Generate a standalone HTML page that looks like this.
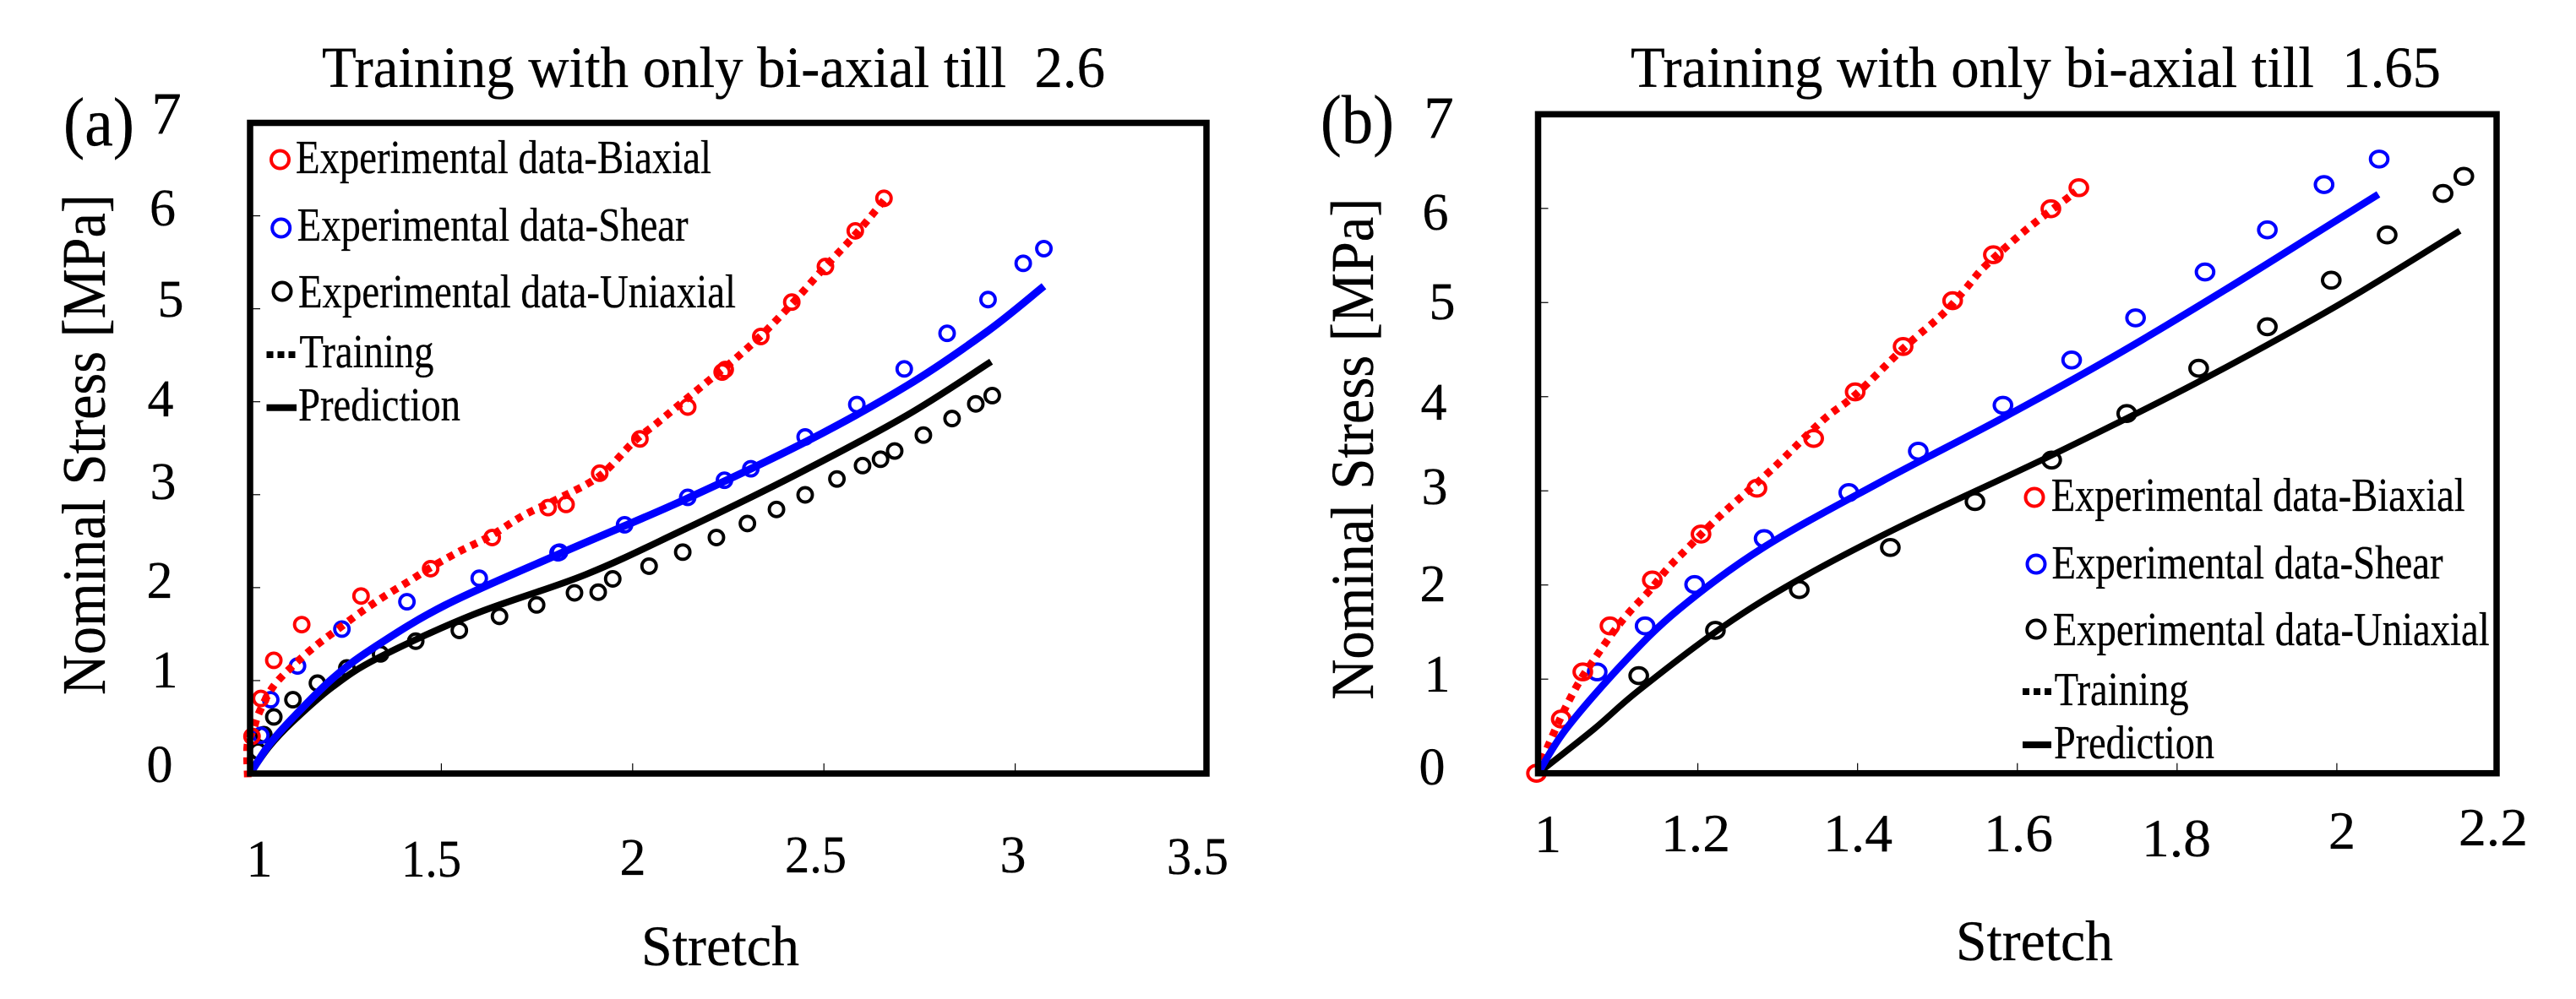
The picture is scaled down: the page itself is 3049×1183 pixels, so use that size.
<!DOCTYPE html>
<html lang="en">
<head>
<meta charset="utf-8">
<title>Training with only bi-axial stress-stretch charts</title>
<style>
html,body{margin:0;padding:0;background:#fff;}
svg{display:block;}
text{font-family:"Liberation Serif",serif;fill:#000;stroke:#000;stroke-width:0.3;white-space:pre;}
</style>
</head>
<body>
<svg id="figure" width="3049" height="1183" viewBox="0 0 3049 1183" xmlns="http://www.w3.org/2000/svg">
<rect x="0" y="0" width="3049" height="1183" fill="#fff"/>

<g id="panel-a">
  <g id="marks-a"></g>
  <rect x="296" y="145.5" width="1132" height="770.5" fill="none" stroke="#000" stroke-width="7.5"/>
  <g id="ticks-a"></g>
  <text x="381" y="103" font-size="68.5" textLength="927" lengthAdjust="spacingAndGlyphs">Training with only bi-axial till  2.6</text>
  <text x="75" y="172" font-size="82" textLength="84" lengthAdjust="spacingAndGlyphs">(a)</text>
  <text transform="translate(124,823) rotate(-90)" font-size="73" textLength="593" lengthAdjust="spacingAndGlyphs">Nominal Stress [MPa]</text>
  <text x="759" y="1143" font-size="68" textLength="187" lengthAdjust="spacingAndGlyphs">Stretch</text>
  <g text-anchor="middle" font-size="62">
    <text x="197" y="158" font-size="71">7</text>
    <text x="192.5" y="267">6</text>
    <text x="202" y="375">5</text>
    <text x="190" y="493">4</text>
    <text x="193" y="591">3</text>
    <text x="189" y="708">2</text>
    <text x="195" y="814">1</text>
    <text x="189" y="926">0</text>
  </g>
  <g font-size="62">
    <text x="307" y="1038" text-anchor="middle">1</text>
    <text x="475" y="1038" textLength="71" lengthAdjust="spacingAndGlyphs">1.5</text>
    <text x="749" y="1036" text-anchor="middle">2</text>
    <text x="929" y="1033" textLength="73" lengthAdjust="spacingAndGlyphs">2.5</text>
    <text x="1199" y="1033" text-anchor="middle">3</text>
    <text x="1381" y="1035" textLength="73" lengthAdjust="spacingAndGlyphs">3.5</text>
  </g>
  <g>
    <circle cx="331.5" cy="189" r="10.5" fill="none" stroke="#f00" stroke-width="4"/>
    <text x="350" y="205" font-size="56" textLength="492" lengthAdjust="spacingAndGlyphs">Experimental data-Biaxial</text>
    <circle cx="332.7" cy="270" r="10.5" fill="none" stroke="#00f" stroke-width="4"/>
    <text x="351.6" y="285" font-size="56" textLength="463" lengthAdjust="spacingAndGlyphs">Experimental data-Shear</text>
    <circle cx="334" cy="345" r="10.5" fill="none" stroke="#000" stroke-width="4"/>
    <text x="353" y="364" font-size="56" textLength="518" lengthAdjust="spacingAndGlyphs">Experimental data-Uniaxial</text>
    <line x1="315.5" y1="420" x2="350" y2="420" stroke="#000" stroke-width="8" stroke-dasharray="8 5"/>
    <text x="354.5" y="435" font-size="56" textLength="159" lengthAdjust="spacingAndGlyphs">Training</text>
    <line x1="315.5" y1="482.7" x2="351" y2="482.7" stroke="#000" stroke-width="8"/>
    <text x="353" y="498" font-size="56" textLength="192" lengthAdjust="spacingAndGlyphs">Prediction</text>
  </g>
</g>

<g id="panel-b">
  <g id="marks-b"></g>
  <rect x="1820.5" y="135.3" width="1134.5" height="780.4" fill="none" stroke="#000" stroke-width="7.5"/>
  <g id="ticks-b"></g>
  <text x="1930" y="103" font-size="68.5" textLength="959" lengthAdjust="spacingAndGlyphs">Training with only bi-axial till  1.65</text>
  <text x="1563" y="169" font-size="82" textLength="87" lengthAdjust="spacingAndGlyphs">(b)</text>
  <text transform="translate(1625,828.6) rotate(-90)" font-size="72" textLength="594" lengthAdjust="spacingAndGlyphs">Nominal Stress [MPa]</text>
  <text x="2315" y="1137" font-size="68" textLength="186" lengthAdjust="spacingAndGlyphs">Stretch</text>
  <g text-anchor="middle" font-size="62">
    <text x="1703" y="163" font-size="71">7</text>
    <text x="1699" y="272">6</text>
    <text x="1707" y="378">5</text>
    <text x="1697" y="497">4</text>
    <text x="1698" y="597">3</text>
    <text x="1696" y="712">2</text>
    <text x="1701" y="819">1</text>
    <text x="1695" y="929">0</text>
  </g>
  <g font-size="64">
    <text x="1832" y="1009" text-anchor="middle">1</text>
    <text x="1966" y="1008" textLength="82" lengthAdjust="spacingAndGlyphs">1.2</text>
    <text x="2158" y="1008" textLength="82" lengthAdjust="spacingAndGlyphs">1.4</text>
    <text x="2348" y="1008" textLength="82" lengthAdjust="spacingAndGlyphs">1.6</text>
    <text x="2535" y="1014" textLength="82" lengthAdjust="spacingAndGlyphs">1.8</text>
    <text x="2772" y="1005" text-anchor="middle">2</text>
    <text x="2910" y="1001" textLength="82" lengthAdjust="spacingAndGlyphs">2.2</text>
  </g>
  <g>
    <circle cx="2408" cy="589" r="10.5" fill="none" stroke="#f00" stroke-width="4"/>
    <text x="2427.7" y="605" font-size="56" textLength="490" lengthAdjust="spacingAndGlyphs">Experimental data-Biaxial</text>
    <circle cx="2410" cy="668" r="10.5" fill="none" stroke="#00f" stroke-width="4"/>
    <text x="2428.5" y="685" font-size="56" textLength="463" lengthAdjust="spacingAndGlyphs">Experimental data-Shear</text>
    <circle cx="2410" cy="745" r="10.5" fill="none" stroke="#000" stroke-width="4"/>
    <text x="2429.7" y="764" font-size="56" textLength="517" lengthAdjust="spacingAndGlyphs">Experimental data-Uniaxial</text>
    <line x1="2394" y1="819" x2="2430" y2="819" stroke="#000" stroke-width="8" stroke-dasharray="8 5"/>
    <text x="2431.6" y="835" font-size="56" textLength="159" lengthAdjust="spacingAndGlyphs">Training</text>
    <line x1="2394" y1="882" x2="2428" y2="882" stroke="#000" stroke-width="8"/>
    <text x="2431" y="898" font-size="56" textLength="190" lengthAdjust="spacingAndGlyphs">Prediction</text>
  </g>
</g>
</svg>

<script>
// Tick values
const aXTicks = [1.5, 2, 2.5, 3];
const bXTicks = [1.2, 1.4, 1.6, 1.8, 2];
const yTicks = [1, 2, 3, 4, 5, 6];

// Panel (a) experimental points
const aBiaxialStretch = [1.005, 1.028, 1.062, 1.135, 1.290, 1.472, 1.633, 1.779, 1.826, 1.914, 2.019, 2.144, 2.234, 2.242, 2.335, 2.416, 2.504, 2.582, 2.657];
const aBiaxialStress = [0.4, 0.808, 1.218, 1.602, 1.910, 2.204, 2.539, 2.861, 2.895, 3.231, 3.600, 3.943, 4.319, 4.346, 4.702, 5.072, 5.455, 5.838, 6.188];
const aShearStretch = [1.028, 1.054, 1.124, 1.240, 1.410, 1.599, 1.805, 1.809, 1.979, 2.144, 2.240, 2.309, 2.451, 2.586, 2.710, 2.822, 2.929, 3.021, 3.075];
const aShearStress = [0.411, 0.794, 1.157, 1.554, 1.848, 2.101, 2.375, 2.382, 2.676, 2.971, 3.155, 3.279, 3.621, 3.970, 4.353, 4.736, 5.099, 5.489, 5.647];
const aUniaxialStretch = [1.021, 1.036, 1.062, 1.112, 1.176, 1.253, 1.341, 1.433, 1.547, 1.652, 1.749, 1.848, 1.910, 1.948, 2.043, 2.131, 2.219, 2.300, 2.376, 2.451, 2.534, 2.601, 2.648, 2.685, 2.760, 2.835, 2.897, 2.940];
const aUniaxialStress = [0.240, 0.418, 0.609, 0.794, 0.972, 1.136, 1.287, 1.424, 1.540, 1.691, 1.814, 1.944, 1.951, 2.094, 2.231, 2.382, 2.539, 2.690, 2.841, 2.998, 3.169, 3.313, 3.381, 3.470, 3.641, 3.819, 3.977, 4.066];

// Panel (a) model curves
const aTrainStretch = [0.994, 0.993, 1.009, 1.024, 1.060, 1.112, 1.171, 1.230, 1.289, 1.355, 1.421, 1.473, 1.546, 1.627, 1.716, 1.809, 1.914, 2.003, 2.062, 2.120, 2.179, 2.238, 2.268, 2.335, 2.416, 2.504, 2.582, 2.657];
const aTrainStress = [-0.04, 0.3, 0.479, 0.660, 0.933, 1.160, 1.372, 1.554, 1.735, 1.917, 2.083, 2.219, 2.387, 2.553, 2.780, 2.964, 3.203, 3.570, 3.764, 3.961, 4.160, 4.360, 4.460, 4.709, 5.051, 5.455, 5.797, 6.167];
const aShearFitStretch = [1, 1.05, 1.112, 1.215, 1.318, 1.509, 1.804, 2.128, 2.452, 2.717, 2.925, 3.075];
const aShearFitStress = [0, 0.31, 0.60, 1.02, 1.34, 1.81, 2.356, 2.932, 3.568, 4.173, 4.75, 5.243];
const aUniFitStretch = [1, 1.05, 1.112, 1.215, 1.333, 1.583, 1.877, 2.128, 2.422, 2.717, 2.937];
const aUniFitStress = [0, 0.29, 0.56, 0.93, 1.24, 1.71, 2.14, 2.613, 3.204, 3.855, 4.431];

// Panel (b) experimental points
const bBiaxialStretch = [0.998, 1.029, 1.056, 1.090, 1.143, 1.204, 1.274, 1.345, 1.397, 1.457, 1.519, 1.570, 1.642, 1.677];
const bBiaxialStress = [0, 0.576, 1.077, 1.565, 2.053, 2.541, 3.028, 3.557, 4.051, 4.533, 5.020, 5.508, 5.996, 6.220];
const bShearStretch = [1.074, 1.134, 1.196, 1.283, 1.389, 1.476, 1.582, 1.668, 1.748, 1.835, 1.913, 1.984, 2.053];
const bShearStress = [1.077, 1.565, 2.005, 2.493, 2.981, 3.421, 3.909, 4.390, 4.837, 5.325, 5.772, 6.253, 6.524];
const bUniaxialStretch = [1.126, 1.222, 1.327, 1.441, 1.547, 1.643, 1.737, 1.827, 1.913, 1.993, 2.063, 2.133, 2.159];
const bUniaxialStress = [1.037, 1.518, 1.951, 2.398, 2.886, 3.327, 3.821, 4.302, 4.743, 5.237, 5.718, 6.159, 6.341];

// Panel (b) model curves
const bTrainStretch = [1.002, 1.007, 1.021, 1.035, 1.052, 1.072, 1.093, 1.114, 1.139, 1.162, 1.188, 1.225, 1.294, 1.356, 1.397, 1.459, 1.507, 1.534, 1.558, 1.599, 1.627, 1.662, 1.673];
const bTrainStress = [0, 0.171, 0.455, 0.709, 0.978, 1.232, 1.486, 1.710, 1.935, 2.174, 2.398, 2.712, 3.238, 3.747, 4.018, 4.526, 4.880, 5.134, 5.373, 5.687, 5.881, 6.105, 6.180];
const bShearFitStretch = [1, 1.035, 1.105, 1.176, 1.282, 1.430, 1.578, 1.719, 1.860, 2.001, 2.052];
const bShearFitStress = [0, 0.470, 1.157, 1.740, 2.398, 3.100, 3.758, 4.420, 5.134, 5.880, 6.150];
const bUniFitStretch = [1, 1.070, 1.126, 1.232, 1.331, 1.458, 1.641, 1.825, 2.001, 2.154];
const bUniFitStress = [0, 0.470, 0.880, 1.560, 2.080, 2.640, 3.370, 4.150, 4.970, 5.762];

const SVG_NS = 'http://www.w3.org/2000/svg';

function xA(s) { return 296 + (s - 1) * (1132 / 2.5); }
function yA(v) { return 916 - v * (770.5 / 7); }
function xB(s) { return 1820.5 + (s - 1) * (1134.5 / 1.2); }
function yB(v) { return 915.7 - v * (780.4 / 7); }

function drawMarkers(parent, xs, ys, xFn, yFn, color, rx, ry, sw, name) {
  xs.forEach(function (s, i) {
    const el = document.createElementNS(SVG_NS, 'ellipse');
    
    
    el.setAttribute('cx', xFn(s));
    el.setAttribute('cy', yFn(ys[i]));
    el.setAttribute('rx', rx);
    el.setAttribute('ry', ry);
    el.setAttribute('fill', 'none');
    el.setAttribute('stroke', color);
    el.setAttribute('stroke-width', sw);
    parent.appendChild(el);
  });
}

function smoothPath(xs, ys, xFn, yFn) {
  const px = xs.map(xFn);
  const py = ys.map(yFn);
  let d = 'M' + px[0].toFixed(1) + ' ' + py[0].toFixed(1);
  for (let i = 0; i < px.length - 1; i++) {
    const p0 = Math.max(i - 1, 0);
    const p3 = Math.min(i + 2, px.length - 1);
    const c1x = px[i] + (px[i + 1] - px[p0]) / 6;
    const c1y = py[i] + (py[i + 1] - py[p0]) / 6;
    const c2x = px[i + 1] - (px[p3] - px[i]) / 6;
    const c2y = py[i + 1] - (py[p3] - py[i]) / 6;
    d += ' C' + c1x.toFixed(1) + ' ' + c1y.toFixed(1) + ' ' + c2x.toFixed(1) + ' ' + c2y.toFixed(1) + ' ' + px[i + 1].toFixed(1) + ' ' + py[i + 1].toFixed(1);
  }
  return d;
}

function drawCurve(parent, xs, ys, xFn, yFn, color, width, dash, name) {
  const el = document.createElementNS(SVG_NS, 'path');
  
  
  el.setAttribute('d', smoothPath(xs, ys, xFn, yFn));
  el.setAttribute('fill', 'none');
  el.setAttribute('stroke', color);
  el.setAttribute('stroke-width', width);
  el.setAttribute('stroke-linejoin', 'round');
  if (dash) el.setAttribute('stroke-dasharray', dash);
  parent.appendChild(el);
}

function drawTicks(parent, xTickVals, yTickVals, xFn, yFn, yZero, x1) {
  xTickVals.forEach(function (t) {
    const el = document.createElementNS(SVG_NS, 'line');
    
    
    el.setAttribute('x1', xFn(t));
    el.setAttribute('x2', xFn(t));
    el.setAttribute('y1', yZero);
    el.setAttribute('y2', yZero - 12);
    el.setAttribute('stroke', '#000');
    el.setAttribute('stroke-width', 1.2);
    parent.appendChild(el);
  });
  yTickVals.forEach(function (t) {
    const el = document.createElementNS(SVG_NS, 'line');
    
    
    el.setAttribute('x1', x1);
    el.setAttribute('x2', x1 + 12);
    el.setAttribute('y1', yFn(t));
    el.setAttribute('y2', yFn(t));
    el.setAttribute('stroke', '#000');
    el.setAttribute('stroke-width', 1.2);
    parent.appendChild(el);
  });
}

const marksA = document.getElementById('marks-a');
drawMarkers(marksA, aUniaxialStretch, aUniaxialStress, xA, yA, '#000', 8.5, 8.5, 3.9, 'uniaxial-point');
drawMarkers(marksA, aShearStretch, aShearStress, xA, yA, '#00f', 8.5, 8.5, 3.9, 'shear-point');
drawMarkers(marksA, aBiaxialStretch, aBiaxialStress, xA, yA, '#f00', 8.5, 8.5, 3.9, 'biaxial-point');
drawCurve(marksA, aTrainStretch, aTrainStress, xA, yA, '#f00', 9, '8 7.5', 'biaxial-training-curve');
drawCurve(marksA, aUniFitStretch, aUniFitStress, xA, yA, '#000', 8, null, 'uniaxial-prediction-curve');
drawCurve(marksA, aShearFitStretch, aShearFitStress, xA, yA, '#00f', 9, null, 'shear-prediction-curve');
drawTicks(document.getElementById('ticks-a'), aXTicks, yTicks, xA, yA, 916, 296);

const marksB = document.getElementById('marks-b');
drawMarkers(marksB, bUniaxialStretch, bUniaxialStress, xB, yB, '#000', 10.3, 9.3, 4, 'uniaxial-point');
drawMarkers(marksB, bShearStretch, bShearStress, xB, yB, '#00f', 10.3, 9.3, 4, 'shear-point');
drawMarkers(marksB, bBiaxialStretch, bBiaxialStress, xB, yB, '#f00', 10.3, 9.3, 4, 'biaxial-point');
drawCurve(marksB, bTrainStretch, bTrainStress, xB, yB, '#f00', 9, '8 7.5', 'biaxial-training-curve');
drawCurve(marksB, bUniFitStretch, bUniFitStress, xB, yB, '#000', 7.5, null, 'uniaxial-prediction-curve');
drawCurve(marksB, bShearFitStretch, bShearFitStress, xB, yB, '#00f', 8.5, null, 'shear-prediction-curve');
drawTicks(document.getElementById('ticks-b'), bXTicks, yTicks, xB, yB, 915.7, 1820.5);
</script>
</body>
</html>
